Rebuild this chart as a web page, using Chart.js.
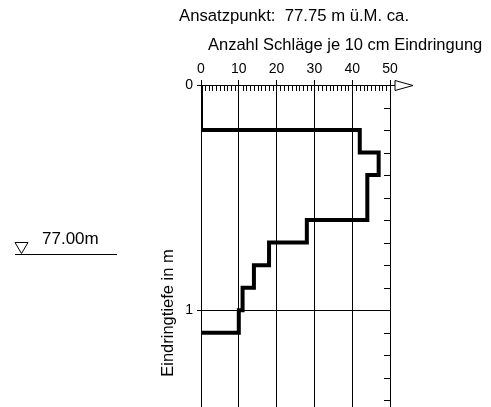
<!DOCTYPE html>
<html>
<head>
<meta charset="utf-8">
<script src="https://cdn.jsdelivr.net/npm/chart.js@4/dist/chart.umd.min.js"></script>
<style>
  html, body { margin: 0; padding: 0; background: #fff; }
  #wrap { width: 491px; height: 407px; }
</style>
</head>
<body>
<div id="wrap"><canvas id="sondierung" width="491" height="407"></canvas></div>
<script>
// Rammsondierung - Schläge je 10 cm
var depthFrom = [0.0, 0.1, 0.2, 0.3, 0.4, 0.5, 0.6, 0.7, 0.8, 0.9, 1.0];
var depthTo   = [0.1, 0.2, 0.3, 0.4, 0.5, 0.6, 0.7, 0.8, 0.9, 1.0, 1.1];
var blows     = [0,   0,   42,  47,  44,  44,  28,  18,  14,  11,  10];
var xTicks = [0, 10, 20, 30, 40, 50];
var yTicks = [0, 1];
var ansatzHoehe = 77.75;   // m ü.M.
var wasserHoehe = 77.00;   // m ü.M.

var FONT = '"Liberation Sans", Arial, sans-serif';

// Treppenlinie aus den Intervallen
var stepPoints = [];
for (var i = 0; i < blows.length; i++) {
    stepPoints.push({x: blows[i], y: depthFrom[i]});
    stepPoints.push({x: blows[i], y: depthTo[i]});
}
stepPoints.push({x: 0, y: depthTo[depthTo.length - 1]});

/* Zusatz: Texte, Teilstriche, Pfeil, Wasserspiegel */
var extras = {
    id: 'extras',
    afterDraw: function(chart) {
        var ctx = chart.ctx;
        var xs = chart.scales.x, ys = chart.scales.y;
        var a = chart.chartArea;
        ctx.save();
        ctx.fillStyle = '#000';
        ctx.strokeStyle = '#000';
        ctx.lineWidth = 1;

        // Kopftexte
        ctx.font = '16.7px ' + FONT;
        ctx.textBaseline = 'alphabetic';
        ctx.textAlign = 'left';
        ctx.fillText('Ansatzpunkt:  ' + ansatzHoehe.toFixed(2) + ' m ü.M. ca.', 179, 21);
        ctx.font = '16.5px ' + FONT;
        ctx.fillText('Anzahl Schläge je 10 cm Eindringung', 208, 50);

        // y Titel
        ctx.save();
        ctx.translate(173, 313);
        ctx.rotate(-Math.PI / 2);
        ctx.textAlign = 'center';
        ctx.fillText('Eindringtiefe in m', 0, 0);
        ctx.restore();

        // kleine Teilstriche oben
        ctx.beginPath();
        for (var v = 1; v < 50; v++) {
            if (v % 10 === 0) continue;
            var px = Math.round(xs.getPixelForValue(v)) + 0.5;
            ctx.moveTo(px, a.top);
            ctx.lineTo(px, a.top + 6);
        }
        // Teilstriche rechts je 10 cm
        for (var d = 1; d <= 14; d++) {
            if (d === 10) continue;
            var py = Math.round(ys.getPixelForValue(d / 10)) + 0.5;
            ctx.moveTo(a.right - 6, py);
            ctx.lineTo(a.right, py);
        }
        ctx.stroke();

        // Pfeil am Ende der x Achse
        var y0 = Math.round(a.top) + 0.5;
        ctx.beginPath();
        ctx.moveTo(a.right, y0);
        ctx.lineTo(a.right + 5, y0);
        ctx.moveTo(a.right + 5, y0 - 5);
        ctx.lineTo(a.right + 23, y0);
        ctx.lineTo(a.right + 5, y0 + 5);
        ctx.closePath();
        ctx.stroke();

        // Wasserspiegel
        var wy = Math.round(ys.getPixelForValue(ansatzHoehe - wasserHoehe)) + 0.5;
        ctx.beginPath();
        ctx.moveTo(15, wy);
        ctx.lineTo(117, wy);
        ctx.moveTo(15, wy - 12);
        ctx.lineTo(28, wy - 12);
        ctx.lineTo(21.5, wy - 1);
        ctx.closePath();
        ctx.stroke();
        ctx.font = '17px ' + FONT;
        ctx.fillText(wasserHoehe.toFixed(2) + 'm', 42, wy - 11);

        ctx.restore();
    }
};

var ctx = document.getElementById('sondierung').getContext('2d');
var chart = new Chart(ctx, {
    type: 'scatter',
    data: {
        datasets: [{
            data: stepPoints,
            showLine: true,
            borderColor: '#000',
            borderWidth: 4,
            borderJoinStyle: 'miter',
            pointRadius: 0,
            tension: 0,
            fill: false
        }]
    },
    options: {
        responsive: false,
        animation: false,
        layout: { padding: { left: 0, top: 0, right: 101, bottom: 0 } },
        plugins: { legend: { display: false }, tooltip: { enabled: false } },
        scales: {
            x: {
                type: 'linear',
                position: 'top',
                min: 0,
                max: 50,
                afterBuildTicks: function(s) { s.ticks = xTicks.map(function(v) { return {value: v}; }); },
                afterFit: function(s) { s.height = 85; s.paddingLeft = 0; s.paddingRight = 0; },
                ticks: { color: '#000', font: { family: FONT, size: 14 }, padding: 2, maxRotation: 0 },
                grid: { color: '#000', lineWidth: 1, tickLength: 5 },
                border: { color: '#000', width: 1 }
            },
            y: {
                type: 'linear',
                position: 'left',
                reverse: true,
                min: 0,
                max: 1.43,
                afterBuildTicks: function(s) { s.ticks = yTicks.map(function(v) { return {value: v}; }); },
                afterFit: function(s) { s.width = 201; s.paddingTop = 0; s.paddingBottom = 0; },
                ticks: { color: '#000', font: { family: FONT, size: 14 }, padding: 4 },
                grid: { color: '#000', lineWidth: 1, tickLength: 4 },
                border: { color: '#000', width: 1 }
            }
        }
    },
    plugins: [extras]
});
</script>
</body>
</html>
